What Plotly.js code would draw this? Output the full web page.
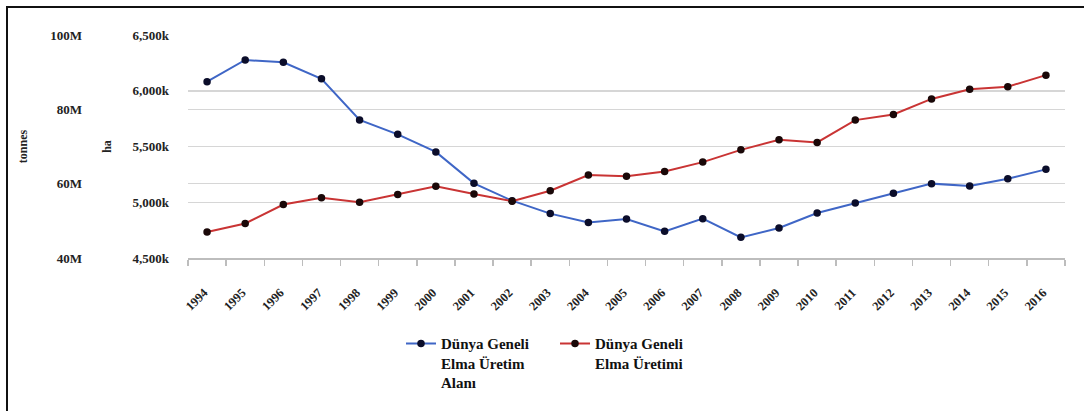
<!DOCTYPE html>
<html>
<head>
<meta charset="utf-8">
<script src="https://cdn.plot.ly/plotly-3.0.1.min.js"></script>
<style>
html,body{margin:0;padding:0;background:#fff;}
#frame{position:absolute;left:6px;top:6px;width:1100px;height:420px;border-left:2px solid #111;border-top:2px solid #111;pointer-events:none;}
#chart{width:1084px;height:411px;}
</style>
</head>
<body>
<div id="chart"></div>
<div id="frame"></div>
<script>
const years = ["1994","1995","1996","1997","1998","1999","2000","2001","2002","2003","2004","2005","2006","2007","2008","2009","2010","2011","2012","2013","2014","2015","2016"];
// World apple production area, thousand ha
const areaHa = [6081,6276,6255,6108,5738,5609,5451,5170,5014,4898,4818,4850,4739,4853,4685,4769,4904,4993,5080,5167,5146,5211,5295];
// World apple production, million tonnes
const prodTonnes = [47.0,49.3,54.4,56.2,55.0,57.1,59.3,57.2,55.3,58.1,62.3,62.0,63.3,65.8,69.1,71.8,71.1,77.1,78.6,82.8,85.4,86.1,89.2];
const areaName = "Dünya Geneli<br>Elma Üretim<br>Alanı";
const prodName = "Dünya Geneli<br>Elma Üretimi";

const serif = "'Liberation Serif'";
const W = 1084, ML = 5, MR = 19;
const plotW = W - ML - MR;
const xStart = (188 - ML) / plotW;
const y2Pos = (100 - ML) / plotW;

const traces = [
  {
    x: years, y: areaHa, name: areaName, type: "scatter", mode: "lines+markers",
    yaxis: "y",
    line: {color: "#3f66c6", width: 2},
    marker: {color: "#0b0d2a", size: 7.5}
  },
  {
    x: years, y: prodTonnes, name: prodName, type: "scatter", mode: "lines+markers",
    yaxis: "y2",
    line: {color: "#c93434", width: 2},
    marker: {color: "#1a0808", size: 7.5}
  }
];

const layout = {
  width: W, height: 411,
  margin: {l: ML, r: MR, t: 35, b: 153, pad: 0},
  paper_bgcolor: "#fff", plot_bgcolor: "#fff",
  font: {family: serif, color: "#222", size: 12},
  showlegend: true,
  legend: {
    orientation: "h", x: (401 - ML) / plotW, xanchor: "left", y: -0.31, yanchor: "top",
    font: {family: serif, size: 15, color: "#111", weight: "bold"},
    valign: "top", entrywidth: 109, entrywidthmode: "pixels",
    bgcolor: "rgba(0,0,0,0)"
  },
  xaxis: {
    type: "category", domain: [xStart, 1], range: [-0.5, years.length - 0.5],
    showgrid: false, zeroline: false,
    showline: true, linecolor: "#bdbdbd", linewidth: 1.5,
    ticks: "outside", tickson: "boundaries", ticklen: 6, tickcolor: "#bdbdbd", tickwidth: 1.5,
    tickangle: -45, ticklabelstandoff: 21, ticklabelshift: -3,
    tickfont: {family: serif, size: 12.5, color: "#222", weight: "bold"}
  },
  yaxis: {
    range: [4500, 6500], dtick: 500, tick0: 4500,
    tickformat: ",d", ticksuffix: "k",
    showgrid: true, gridcolor: "#d6d6d6", gridwidth: 1.5,
    zeroline: false, showline: false, ticks: "",
    ticklabelstandoff: 18,
    tickfont: {family: serif, size: 13, color: "#222", weight: "bold"},
    title: {text: "ha", standoff: 18, font: {family: serif, size: 12, color: "#222", weight: "bold"}}
  },
  yaxis2: {
    overlaying: "y", side: "left", anchor: "free", position: y2Pos,
    range: [40, 100], dtick: 20, tick0: 40, ticksuffix: "M",
    showgrid: true, gridcolor: "#d6d6d6", gridwidth: 1.5,
    zeroline: false, showline: false, ticks: "",
    ticklabelstandoff: 18,
    tickfont: {family: serif, size: 13, color: "#222", weight: "bold"},
    title: {text: "tonnes", standoff: 19, font: {family: serif, size: 12, color: "#222", weight: "bold"}}
  }
};

Plotly.newPlot("chart", traces, layout, {displayModeBar: false, staticPlot: true});
</script>
</body>
</html>
